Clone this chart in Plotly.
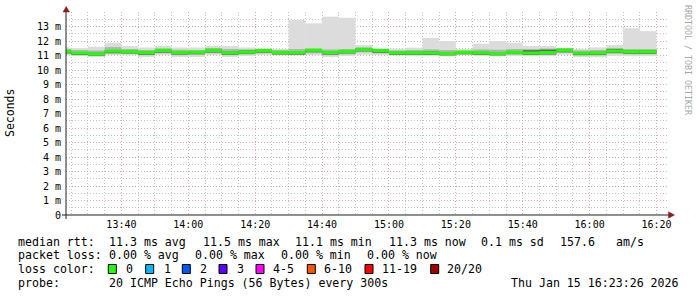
import plotly.graph_objects as go
import pandas as pd

# ---------------- data (ms) ----------------
step_start = "2026-01-15 13:20:00"   # first 300 s step (partially visible)
step_seconds = 300
range_start = "2026-01-15 13:23:26"
range_end = "2026-01-15 16:23:26"

median = [11.29, 11.17, 11.12, 11.30, 11.27, 11.19, 11.34, 11.20, 11.22, 11.34,
          11.18, 11.23, 11.33, 11.20, 11.20, 11.36, 11.20, 11.28, 11.42, 11.33,
          11.18, 11.18, 11.18, 11.14, 11.22, 11.18, 11.14, 11.22, 11.17, 11.21,
          11.36, 11.16, 11.17, 11.31, 11.26, 11.26]
ping_max = [11.55, 11.50, 11.61, 11.88, 11.65, 11.55, 11.67, 11.55, 11.55, 11.67,
            11.66, 11.55, 11.48, 11.46, 13.45, 13.22, 13.68, 13.60, 11.72, 11.50,
            11.47, 11.54, 12.22, 12.00, 11.45, 11.81, 12.00, 11.88, 11.66, 11.66,
            11.50, 11.45, 11.56, 11.72, 12.88, 12.68]
ping_min = [11.02, 10.97, 10.88, 11.02, 11.02, 10.88, 11.02, 10.88, 10.90, 11.02,
            10.90, 10.97, 11.02, 11.02, 11.02, 11.02, 10.90, 10.97, 11.05, 11.02,
            11.00, 10.97, 10.97, 10.95, 11.05, 10.97, 10.95, 10.97, 10.95, 10.95,
            11.05, 10.88, 10.88, 10.97, 10.95, 10.95]
ping_p75 = [11.45, 11.38, 11.35, 11.58, 11.45, 11.38, 11.50, 11.40, 11.38, 11.50,
            11.45, 11.42, 11.43, 11.38, 11.45, 11.48, 11.42, 11.45, 11.55, 11.45,
            11.35, 11.38, 11.42, 11.38, 11.35, 11.42, 11.40, 11.45, 11.45, 11.48,
            11.45, 11.35, 11.38, 11.52, 11.45, 11.45]
ping_p25 = [11.10, 11.05, 10.98, 11.10, 11.12, 11.02, 11.15, 11.02, 11.05, 11.15,
            11.02, 11.08, 11.15, 11.08, 11.08, 11.15, 11.02, 11.08, 11.22, 11.15,
            11.05, 11.05, 11.05, 11.02, 11.10, 11.05, 11.02, 11.08, 11.03, 11.05,
            11.20, 11.00, 11.00, 11.12, 11.08, 11.08]
ping_p60 = [11.36, 11.24, 11.20, 11.38, 11.36, 11.27, 11.42, 11.28, 11.30, 11.46,
            11.27, 11.34, 11.40, 11.28, 11.28, 11.44, 11.28, 11.37, 11.50, 11.40,
            11.26, 11.26, 11.28, 11.22, 11.30, 11.26, 11.22, 11.30, 11.36, 11.40,
            11.47, 11.24, 11.25, 11.44, 11.35, 11.35]
ping_p40 = [11.15, 11.03, 11.00, 11.17, 11.14, 11.05, 11.20, 11.07, 11.09, 11.21,
            11.05, 11.10, 11.20, 11.07, 11.06, 11.23, 11.07, 11.15, 11.29, 11.19,
            11.05, 11.05, 11.05, 11.01, 11.08, 11.05, 11.01, 11.09, 11.04, 11.08,
            11.22, 11.03, 11.04, 11.18, 11.13, 11.13]

y_tick_vals = list(range(0, 14))
y_tick_text = ["0"] + [f"{v} m" for v in range(1, 14)]

stat_texts = ["median rtt:", "11.3 ms avg", "11.5 ms max", "11.1 ms min",
              "11.3 ms now", "0.1 ms sd", "157.6", "am/s"]
loss_texts = ["packet loss:", "0.00 % avg", "0.00 % max", "0.00 % min", "0.00 % now"]
loss_labels = ["0", "1", "2", "3", "4-5", "6-10", "11-19", "20/20"]
loss_colors = ["#22ff00", "#00b8ff", "#0059ff", "#5e00ff", "#ff00ff", "#ff5500",
               "#ff0000", "#a10000"]
probe_text = "20 ICMP Echo Pings (56 Bytes) every 300s"
date_text = "Thu Jan 15 16:23:26 2026"

# ---------------- layout geometry (pixels) ----------------
W, H = 697, 297
L, R, T, B = 66, 29, 12, 82
pw, ph = W - L - R, H - T - B
def px(x):
    return (x - L) / pw
def py(y):
    return (H - B - y) / ph

MONO = "DejaVu Sans Mono"
GREEN_HALF = 0.11

t0 = pd.Timestamp(step_start)
centers = [t0 + pd.Timedelta(seconds=step_seconds * (k + 0.5)) for k in range(len(median))]
bw = step_seconds * 1000

fig = go.Figure()
def band(lo, hi, color):
    fig.add_trace(go.Bar(x=centers, base=lo, y=[h - l for l, h in zip(lo, hi)],
                         width=bw, marker=dict(color=color, line=dict(width=0)),
                         hoverinfo="skip", showlegend=False))

band(ping_min, ping_max, "#dcdcdc")
band(ping_p25, ping_p75, "#b4b4b4")
band(ping_p40, ping_p60, "#555555")
band([m - GREEN_HALF for m in median], [m + GREEN_HALF for m in median], loss_colors[0])

major_grid = "#e3a9a9"
minor_grid = "#c4c4c4"
fig.update_layout(
    width=W, height=H, margin=dict(l=L, r=R, t=T, b=B),
    paper_bgcolor="white", plot_bgcolor="white",
    barmode="overlay", hovermode=False, showlegend=False,
    font=dict(family=MONO, color="black"),
    xaxis=dict(type="date", range=[range_start, range_end],
               tick0="2026-01-15 13:40:00", dtick=20 * 60 * 1000, tickformat="%H:%M",
               showgrid=True, gridcolor=major_grid, griddash="1px,2px", gridwidth=1,
               ticks="", showline=False, zeroline=False,
               tickfont=dict(family=MONO, size=10, color="black"),
               ticklabelstandoff=2,
               minor=dict(dtick=5 * 60 * 1000, tick0="2026-01-15 13:40:00",
                          showgrid=True, gridcolor=minor_grid, griddash="1px,2px",
                          gridwidth=1)),
    yaxis=dict(range=[0, 14], tickvals=y_tick_vals, ticktext=y_tick_text,
               showgrid=True, gridcolor=major_grid, griddash="1px,2px", gridwidth=1,
               ticks="", showline=False, zeroline=False,
               tickfont=dict(family=MONO, size=10, color="black"),
               ticklabelstandoff=4,
               minor=dict(dtick=0.5, showgrid=True, gridcolor=minor_grid,
                          griddash="1px,2px", gridwidth=1)),
)

shapes = []
axis_col = "#202020"
arrow_col = "#8f1c1c"
# axes
shapes.append(dict(type="line", xref="paper", yref="paper", x0=px(66), x1=px(66),
                   y0=py(219), y1=py(11), line=dict(color=axis_col, width=1)))
shapes.append(dict(type="line", xref="paper", yref="paper", x0=px(62), x1=px(669),
                   y0=py(215), y1=py(215), line=dict(color=axis_col, width=1)))
# arrows
shapes.append(dict(type="path", xref="paper", yref="paper",
                   path=f"M {px(63)} {py(12)} L {px(69.5)} {py(12)} L {px(66.2)} {py(6.5)} Z",
                   fillcolor=arrow_col, line=dict(color=arrow_col, width=0.5)))
shapes.append(dict(type="path", xref="paper", yref="paper",
                   path=f"M {px(668.5)} {py(211.8)} L {px(668.5)} {py(218.2)} L {px(674.5)} {py(215)} Z",
                   fillcolor=arrow_col, line=dict(color=arrow_col, width=0.5)))

# loss color boxes
box_x = [108.3, 145.7, 182.3, 219, 256, 307.3, 365, 430.7]
lab_x = [124, 161.7, 198.3, 235, 270.7, 322, 380, 445]
for bx, c in zip(box_x, loss_colors):
    shapes.append(dict(type="rect", xref="paper", yref="paper",
                       x0=px(bx), x1=px(bx + 8), y0=py(273.5), y1=py(264.5),
                       fillcolor=c, line=dict(color="black", width=1)))
fig.update_layout(shapes=shapes)

ann = []
FS = 11.6
def text(x, y, s, anchor="left", size=FS, color="black", angle=0):
    ann.append(dict(xref="paper", yref="paper", x=px(x), y=py(y), text=s.replace(" ", "\u00a0"),
                    showarrow=False, xanchor=anchor, yanchor="middle", textangle=angle,
                    font=dict(family=MONO, size=size, color=color)))

stat_x = [16, 107.3, 200.7, 293.3, 386.7, 479, 558.3, 614]
for x, s in zip(stat_x, stat_texts):
    text(x, 241.7, s)
loss_x = [16, 107.3, 193.3, 279.3, 365]
for x, s in zip(loss_x, loss_texts):
    text(x, 255, s)
text(16, 269.3, "loss color:")
for x, s in zip(lab_x, loss_labels):
    text(x, 269.3, s)
text(16, 282.7, "probe:")
text(107.3, 282.7, probe_text)
text(680.5, 282.7, date_text, anchor="right")
# axis title & watermark
ann.append(dict(xref="paper", yref="paper", x=px(10), y=py(113), text="Seconds",
                showarrow=False, xanchor="center", yanchor="middle", textangle=-90,
                font=dict(family=MONO, size=11.5, color="black")))
ann.append(dict(xref="paper", yref="paper", x=px(688), y=py(60),
                text="RRDTOOL / TOBI OETIKER".replace(" ", "\u00a0"),
                showarrow=False, xanchor="center", yanchor="middle", textangle=90,
                font=dict(family=MONO, size=8.3, color="#a8a8a8")))
fig.update_layout(annotations=ann)

fig.write_html("out.html")
